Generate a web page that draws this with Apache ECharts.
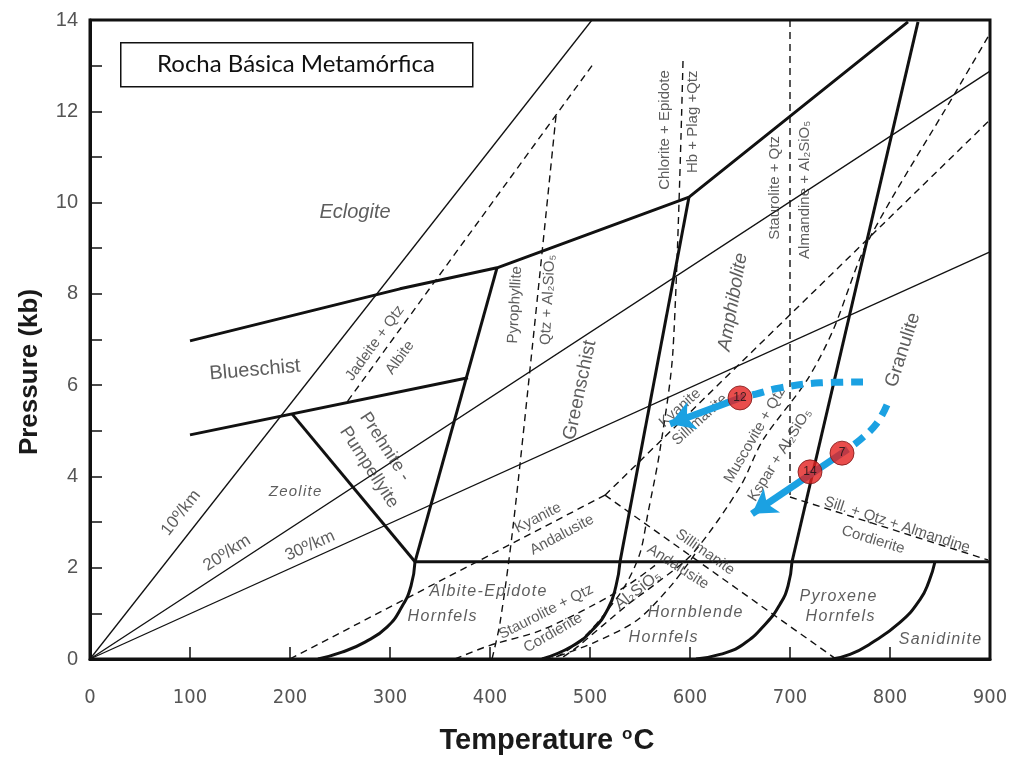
<!DOCTYPE html>
<html><head><meta charset="utf-8">
<script src="https://cdn.jsdelivr.net/npm/echarts/dist/echarts.min.js"></script>
<style>html,body{margin:0;padding:0;background:#fff}#c{width:1018px;height:758px}</style>
</head><body><div id="c"></div>
<script>
// ---- data (Temperature °C, Pressure kb) ----
const xTicks = [0,100,200,300,400,500,600,700,800,900];
const yTicks = [0,2,4,6,8,10,12,14];
// geotherms
const geo10 = [[0,0],[502,14]];
const geo20 = [[0,0],[900,12.88]];
const geo30 = [[0,0],[900,8.92]];
// facies boundaries (thick)
const eclogiteBoundary = [[100,6.97],[310,8.11],[407,8.57],[599,10.12],[818,13.96]];
const blueschistLower = [[100,4.91],[378,6.16]];
const zeoliteBoundary = [[202,5.37],[325,2.13]];
const greenschistLow = [[407,8.57],[325,2.13]];
const greenschistCurve = [[325,2.13],[321,1.6],[312,1.15],[297,0.7],[275,0.37],[252,0.15],[228,0]];
const amphiboliteLow = [[599,10.12],[530,2.13]];
const amphiboliteCurve = [[530,2.13],[526,1.6],[518,1.1],[503,0.65],[482,0.28],[452,0]];
const granuliteLow = [[828,13.96],[702,2.13]];
const granuliteCurve = [[702,2.13],[698,1.6],[690,1.2],[676,0.78],[653,0.32],[630,0.1],[606,0]];
const hornfelsTop = [[325,2.13],[900,2.13]];
const sanidiniteCurve = [[845,2.13],[839,1.7],[830,1.3],[810,0.8],[780,0.33],[760,0.1],[742,0]];
// reaction lines (dashed)
const jadeiteAlbite = [[502,13.0],[255,5.57]];
const pyrophyllite = [[466,11.9],[442,6.77],[423,2.89],[410,0.79],[402,0]];
const chloriteEpidote = [[593,13.1],[583,6.77],[570,4.58],[558,3.2],[550,2.32],[535,1.6],[515,1.0],[495,0.5],[475,0.15],[462,0]];
const stauroliteAlmandine = [[700,14],[700,3.55]];
const sillAlmCordierite = [[700,3.55],[898,2.17]];
const kyaniteSillimanite = [[515,3.59],[898,11.77]];
const kyaniteAndalusite = [[515,3.59],[200,0]];
const sillimaniteAndalusite = [[515,3.59],[746,0]];
const muscoviteKspar = [[898,13.63],[867,12.47],[777,9.11],[743,7.2],[717,6.11],[673,4.8],[650,3.77],[603,2.32],[567,1.67],[537,1.18],[487,0.26],[470,0]];
const stauroliteCordierite = [[365,0],[400,0.3],[450,0.62],[505,1.2],[540,1.65],[565,2.05]];
const hornblendeHornfels = [[605,2.3],[580,1.58],[547,0.85],[503,0.35],[460,0]];
// P-T path
const pathA_dashed = [[773,6.07],[730,6.05],[690,5.94],[665,5.8],[650,5.72]];
const pathA_arrow = [[650,5.72],[580,5.15]];
const pathB_dashed = [[797,5.57],[787,5.17],[770,4.80],[752,4.51]];
const pathB_arrow = [[752,4.51],[662,3.18]];
const samplePoints = [[650,5.72],[752,4.51],[720,4.10]];
const sampleNames = ['12','7','14'];
// annotations
const labelTexts = ['Eclogite','Blueschist','Jadeite + Qtz','Albite','Prehnite -','Pumpellyite','Zeolite',
 '10º/km','20º/km','30º/km','Pyrophyllite','Qtz + Al₂SiO₅','Greenschist','Chlorite + Epidote','Hb + Plag +Qtz',
 'Amphibolite','Staurolite + Qtz','Almandine + Al₂SiO₅','Granulite','Kyanite','Sillimanite','Muscovite + Qtz',
 'Kspar + Al₂SiO₅','Sill. + Qtz + Almandine','Cordierite','Kyanite','Andalusite','Sillimanite','Andalusite',
 'Albite-Epidote','Hornfels','Staurolite + Qtz','Cordierite','Al₂SiO₅','Hornblende','Hornfels','Pyroxene','Hornfels','Sanidinite'];
const labelAnchors = [[265,9.79],[165,6.33],[285,6.92],[310,6.6],[295,4.65],[279,4.2],[205,3.66],
 [91,3.2],[137,2.32],[220,2.48],[425,7.76],[458,7.87],[490,5.89],[575,11.59],[603,11.77],
 [643,7.82],[685,10.32],[715,10.28],[813,6.77],[590,5.5],[610,5.24],[665,4.91],
 [690,4.47],[807,2.94],[783,2.61],[448,3.09],[472,2.72],[615,2.34],[588,2.02],
 [398,1.47],[352,0.92],[456,1.03],[463,0.57],[548,1.51],[605,1.01],[573,0.46],[748,1.36],[750,0.92],[850,0.42]];
const labelRot = [0,5,54,54,-57,-57,0, 52,33,24,87,87,78,90,90, 80,90,90,72,42,42,60, 58,-18,-17,27,28,-35,-33, 0,0,27,30,38,0,0,0,0,0];
const labelSize = [20,20,15,15,18,18,15, 17,17,17,15,15,19,15,15, 19,15,15,19,15,15,15, 15,15,15,15,15,15,15, 16,16,15,15,16,16,16,16,16,16];
const labelItalic = [1,0,0,0,0,0,1, 0,0,0,0,0,0,0,0, 1,0,0,0,0,0,0, 0,0,0,0,0,0,0, 1,1,0,0,0,1,1,1,1,1];
const labelSpaced = [0,0,0,0,0,0,1, 0,0,0,0,0,0,0,0, 0,0,0,0,0,0,0, 0,0,0,0,0,0,0, 1,1,0,0,0,1,1,1,1,1];

const chart = echarts.init(document.getElementById('c'), null, {renderer:'canvas'});
const INK = '#111';
function ln(data, kind, smooth){
  const st = {thick:{width:3,type:'solid'}, thin:{width:1.3,type:'solid'}, dash:{width:1.4,type:[7,5]}}[kind];
  return {type:'line', data:data, symbol:'none', showSymbol:false, silent:true, smooth:smooth||false, z:2,
    lineStyle:Object.assign({color:INK}, st)};
}
const series = [
  ln(geo10,'thin'), ln(geo20,'thin'), ln(geo30,'thin'),
  ln(jadeiteAlbite,'dash'), ln(pyrophyllite,'dash',0.3), ln(chloriteEpidote,'dash',0.3),
  ln(stauroliteAlmandine,'dash'), ln(sillAlmCordierite,'dash'), ln(kyaniteSillimanite,'dash'),
  ln(kyaniteAndalusite,'dash'), ln(sillimaniteAndalusite,'dash'), ln(muscoviteKspar,'dash',0.3),
  ln(stauroliteCordierite,'dash',0.3), ln(hornblendeHornfels,'dash',0.3),
  ln(eclogiteBoundary,'thick'), ln(blueschistLower,'thick'), ln(zeoliteBoundary,'thick'),
  ln(greenschistLow,'thick'), ln(greenschistCurve,'thick',0.5), ln(amphiboliteLow,'thick'),
  ln(amphiboliteCurve,'thick',0.5), ln(granuliteLow,'thick'), ln(granuliteCurve,'thick',0.5),
  ln(hornfelsTop,'thick'), ln(sanidiniteCurve,'thick',0.5),
  {type:'scatter', silent:true, symbolSize:1, itemStyle:{color:'rgba(0,0,0,0)'}, z:3,
   data: labelTexts.map((t,i)=>({value:labelAnchors[i], label:{show:true, position:'inside',
     formatter: labelSpaced[i] ? t.split('').join('\u200A') : t, rotate:labelRot[i], fontSize:labelSize[i],
     fontStyle: labelItalic[i] ? 'italic':'normal', color:'#353535', fontFamily:'Liberation Sans, Arial, sans-serif'}}))},
  {type:'line', data:pathA_dashed, symbol:'none', smooth:0.4, silent:true, z:6, lineStyle:{color:'#1ba1e2', width:7, type:[12,8]}},
  {type:'line', data:pathB_dashed, symbol:'none', smooth:0.4, silent:true, z:6, lineStyle:{color:'#1ba1e2', width:7, type:[12,8]}},
  {type:'line', data:[], silent:true, z:6,
   markLine:{silent:true, animation:false, symbol:['none','arrow'], symbolSize:[22,24], label:{show:false},
     lineStyle:{color:'#1ba1e2', width:7, type:'solid'},
     data:[[{coord:pathA_arrow[0]},{coord:pathA_arrow[1]}],[{coord:pathB_arrow[0]},{coord:pathB_arrow[1]}]]}},
  {type:'scatter', silent:true, z:8, symbolSize:24,
   itemStyle:{color:'#e3201f', borderColor:'#7a1515', borderWidth:1},
   label:{show:true, position:'inside', color:'#111', fontSize:12, fontFamily:'Liberation Sans, Arial, sans-serif', formatter:(p)=>sampleNames[p.dataIndex]},
   data: samplePoints}
];

chart.setOption({
  animation:false,
  backgroundColor:'#fff',
  grid:{left:90, right:28, top:20, bottom:99, show:true, borderColor:INK, borderWidth:3, backgroundColor:'transparent'},
  xAxis:{type:'value', min:0, max:900, interval:100,
    axisLine:{show:true, lineStyle:{color:INK, width:3}},
    axisTick:{show:true, inside:true, length:12, lineStyle:{color:INK, width:1.5}},
    splitLine:{show:false},
    axisLabel:{margin:29, fontSize:20, color:'#555', fontFamily:'Liberation Sans Narrow, DejaVu Sans Condensed, Liberation Sans, sans-serif',
      formatter:(v)=> xTicks.indexOf(v)>=0 ? String(v) : ''}},
  yAxis:{type:'value', min:0, max:14, interval:1,
    axisLine:{show:true, lineStyle:{color:INK, width:3}},
    axisTick:{show:true, inside:true, length:12, lineStyle:{color:INK, width:1.5}},
    splitLine:{show:false},
    axisLabel:{margin:12, fontSize:20, color:'#555', fontFamily:'Liberation Sans, Arial, sans-serif',
      formatter:(v)=> yTicks.indexOf(v)>=0 ? String(v) : ''}},
  graphic:[
    {type:'rect', left:120, top:42, shape:{width:352, height:44}, style:{fill:'#fff', stroke:INK, lineWidth:1.5}, z:10},
    {type:'text', x:296, y:64, z:11, style:{text:'Rocha Básica Metamórfica', fontSize:24, fontFamily:'Lato, Open Sans, sans-serif', fill:'#111', align:'center', verticalAlign:'middle'}},
    {type:'text', x:30, y:372, rotation:Math.PI/2, z:11, style:{text:'Pressure (kb)', fontSize:26, fontWeight:'bold', fontFamily:'Liberation Sans, Arial, sans-serif', fill:'#1a1a1a', align:'center', verticalAlign:'middle'}},
    {type:'text', x:547, y:741, z:11, style:{text:'Temperature {s|o}C', fontSize:29, fontWeight:'bold', fontFamily:'Liberation Sans, Arial, sans-serif', fill:'#1a1a1a', align:'center', verticalAlign:'middle',
      rich:{s:{fontSize:17, fontWeight:'bold', verticalAlign:'top', fontFamily:'Liberation Sans, Arial, sans-serif', fill:'#1a1a1a', padding:[0,1,14,1]}}}}
  ],
  series: series
});
</script></body></html>
